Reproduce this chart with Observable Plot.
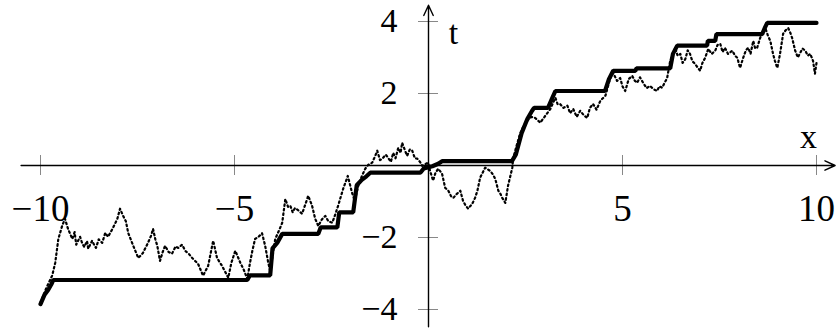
<!DOCTYPE html>
<html>
<head>
<meta charset="utf-8">
<script src="https://cdn.jsdelivr.net/npm/d3@7"></script>
<script src="https://cdn.jsdelivr.net/npm/@observablehq/plot@0.6"></script>
<style>
  html, body { margin: 0; padding: 0; background: #fff; }
  svg { display: block; }
</style>
</head>
<body>
<div id="chart"></div>
<script>
// Tick labels
const xTicks = [-10, -5, 5, 10];
const yTicks = [-4, -2, 2, 4];

// Thick step line (running level)
const stepX = [-10.0, -9.9, -9.8, -9.72, -9.67, -4.67, -4.6, -4.08, -4.02, -3.9, -3.77,
  -2.84, -2.78, -2.35, -2.3, -1.94, -1.85, -1.72, -1.6, -1.5, -0.21, -0.12, 0.1, 0.25, 0.35,
  2.15, 2.25, 2.4, 2.55, 2.67, 2.72, 3.08, 3.2, 3.27, 4.55, 4.65, 4.76, 5.33, 5.36,
  6.23, 6.3, 6.41, 7.18, 7.2, 7.39, 7.42, 8.6, 8.68, 8.73, 10.0];
const stepY = [-3.85, -3.6, -3.45, -3.3, -3.18, -3.18, -3.05, -3.05, -2.3, -2.15, -1.9,
  -1.9, -1.72, -1.72, -1.3, -1.3, -0.55, -0.4, -0.3, -0.2, -0.2, -0.08, -0.02, 0.05, 0.12,
  0.12, 0.3, 0.9, 1.3, 1.52, 1.6, 1.6, 1.9, 2.07, 2.07, 2.4, 2.63, 2.63, 2.7,
  2.7, 3.1, 3.33, 3.33, 3.46, 3.46, 3.65, 3.65, 3.85, 3.96, 3.96];

// Dotted noisy path
const walkX = [-10.00,-9.85,-9.70,-9.62,-9.54,-9.44,-9.37,-9.29,-9.18,-9.12,-9.08,-8.98,-8.92,-8.87,-8.80,-8.77,-8.67,-8.60,-8.57,-8.50,
  -8.41,-8.33,-8.26,-8.15,-8.08,-8.02,-7.95,-7.87,-7.80,-7.74,-7.61,-7.48,-7.36,-7.23,-7.15,-7.10,-7.04,-6.99,-6.92,-6.85,
  -6.79,-6.70,-6.61,-6.52,-6.45,-6.35,-6.27,-6.18,-6.09,-5.94,-5.81,-5.68,-5.55,-5.45,-5.32,-5.16,-5.08,-4.98,-4.85,-4.76,
  -4.67,-4.60,-4.54,-4.47,-4.38,-4.29,-4.21,-4.13,-4.08,-3.95,-3.85,-3.77,-3.69,-3.62,-3.56,-3.50,-3.44,-3.35,-3.26,-3.18,
  -3.10,-3.00,-2.92,-2.84,-2.75,-2.66,-2.58,-2.48,-2.40,-2.33,-2.20,-2.08,-1.97,-1.90,-1.81,-1.72,-1.63,-1.55,-1.45,-1.38,
  -1.32,-1.25,-1.19,-1.10,-1.04,-0.97,-0.91,-0.85,-0.78,-0.72,-0.68,-0.60,-0.55,-0.48,-0.42,-0.35,-0.29,-0.22,-0.16,-0.01,
  0.04,0.12,0.18,0.25,0.35,0.43,0.51,0.58,0.64,0.72,0.82,0.89,0.95,1.02,1.13,1.20,1.26,1.33,1.46,1.59,
  1.66,1.72,1.80,1.86,1.90,1.98,2.05,2.16,2.18,2.27,2.36,2.45,2.54,2.65,2.75,2.88,3.01,3.14,3.27,3.33,
  3.39,3.48,3.58,3.65,3.73,3.82,3.91,4.00,4.09,4.16,4.24,4.33,4.43,4.56,4.68,4.76,4.86,4.94,5.00,5.07,
  5.16,5.25,5.32,5.38,5.45,5.53,5.62,5.71,5.80,5.89,5.95,6.02,6.15,6.23,6.36,6.42,6.49,6.55,6.62,6.68,
  6.74,6.80,6.87,7.00,7.06,7.13,7.21,7.30,7.39,7.45,7.52,7.58,7.64,7.72,7.83,7.90,7.96,8.03,8.11,8.18,
  8.24,8.30,8.37,8.42,8.47,8.55,8.62,8.68,8.75,8.81,8.88,8.93,8.99,9.06,9.14,9.20,9.27,9.32,9.37,9.45,
  9.52,9.58,9.64,9.71,9.78,9.84,9.91,9.96,10.00];
const walkY = [-3.81,-3.40,-3.06,-2.70,-2.04,-1.67,-1.48,-1.76,-2.04,-1.85,-2.20,-1.98,-2.18,-2.26,-2.10,-2.31,-2.09,-2.24,-2.29,-2.05,
  -2.15,-1.87,-1.98,-1.77,-1.62,-1.48,-1.20,-1.40,-1.55,-1.87,-2.23,-2.57,-2.43,-2.15,-1.95,-1.76,-2.05,-2.23,-2.65,-2.40,
  -2.23,-2.40,-2.45,-2.25,-2.29,-2.20,-2.37,-2.45,-2.57,-2.73,-3.06,-2.79,-2.09,-2.57,-2.79,-3.12,-2.70,-2.37,-2.70,-2.90,
  -3.15,-2.70,-2.37,-2.04,-1.98,-1.88,-2.23,-2.70,-2.93,-2.04,-1.80,-1.59,-0.93,-1.15,-1.12,-1.30,-1.18,-1.25,-1.34,-1.10,
  -0.84,-1.12,-1.48,-1.68,-1.50,-1.40,-1.55,-1.59,-1.35,-1.12,-0.65,-0.29,-0.76,-0.98,-0.56,-0.30,-0.09,0.02,0.08,0.25,
  0.41,0.15,0.19,0.30,0.21,0.10,0.35,0.20,0.49,0.35,0.63,0.40,0.27,0.45,0.41,0.20,0.19,0.10,-0.01,0.08,
  -0.15,-0.42,-0.20,-0.09,-0.23,-0.62,-0.70,-0.85,-0.90,-0.80,-0.70,-0.98,-1.10,-1.20,-1.06,-0.90,-0.70,-0.34,-0.06,-0.15,
  -0.25,-0.37,-0.70,-0.80,-0.90,-1.04,-0.56,-0.06,0.19,0.55,0.88,1.10,1.24,1.35,1.32,1.19,1.38,1.57,1.88,1.70,
  1.71,1.60,1.66,1.45,1.57,1.35,1.52,1.40,1.32,1.60,1.71,1.55,1.80,1.94,2.41,2.57,2.35,2.43,2.20,2.07,
  2.40,2.49,2.35,2.30,2.45,2.30,2.15,2.21,2.12,2.07,2.20,2.16,2.43,2.91,3.27,3.05,3.10,2.85,2.96,3.20,
  3.10,2.90,2.82,2.63,2.85,2.99,3.24,3.10,3.19,3.35,3.38,3.15,3.27,3.10,3.19,3.05,2.99,2.71,2.99,3.20,
  3.27,3.10,3.46,3.25,3.27,3.55,3.70,3.82,3.60,3.46,3.10,2.90,2.71,3.10,3.66,3.75,3.82,3.70,3.55,3.19,
  3.00,3.13,3.25,3.19,3.05,3.10,2.91,2.55,2.85];

const step = stepX.map((x, i) => ({x, y: stepY[i]}));
const walk = walkX.map((x, i) => ({x, y: walkY[i]}));

const W = 837, H = 332;
const mL = 40, mR = 21, mT = 21, mB = 23;
const pxPerY = (H - mT - mB) / 8;
const pxPerX = (W - mL - mR) / 20;
const tickHalf = 10; // px

const font = "'Liberation Serif', 'Times New Roman', serif";

const plot = Plot.plot({
  width: W,
  height: H,
  marginLeft: mL, marginRight: mR, marginTop: mT, marginBottom: mB,
  x: {domain: [-10, 10], axis: null},
  y: {domain: [-4, 4], axis: null},
  style: {fontFamily: font, background: "white", overflow: "visible"},
  marks: [
    // gray ticks
    Plot.ruleX(xTicks, {x: d => d, y1: -tickHalf / pxPerY, y2: tickHalf / pxPerY, stroke: "#888", strokeWidth: 1, clip: false}),
    Plot.ruleY(yTicks, {y: d => d, x1: -tickHalf / pxPerX, x2: tickHalf / pxPerX, stroke: "#888", strokeWidth: 1, clip: false}),
    // axes with arrowheads
    Plot.arrow([{x1: -10.5, x2: 10.48, y: 0}], {x1: "x1", x2: "x2", y1: "y", y2: "y", stroke: "black", strokeWidth: 1.4, headLength: 12, headAngle: 50, clip: false}),
    Plot.arrow([{x: 0, y1: -4.48, y2: 4.45}], {x1: "x", x2: "x", y1: "y1", y2: "y2", stroke: "black", strokeWidth: 1.4, headLength: 12, headAngle: 50, clip: false}),
    // dotted walk
    Plot.line(walk, {x: "x", y: "y", stroke: "black", strokeWidth: 2.2, strokeDasharray: "1.6,3", curve: "linear"}),
    // thick step line
    Plot.line(step, {x: "x", y: "y", stroke: "black", strokeWidth: 4.2, strokeLinejoin: "miter", curve: "linear"}),
    // tick labels
    Plot.text(xTicks, {x: d => d, y: 0, text: d => d < 0 ? "\u2212" + Math.abs(d) : String(d), dy: 44, fontSize: 37, fill: "black", textAnchor: "middle", lineAnchor: "middle"}),
    Plot.text(yTicks, {x: 0, y: d => d, text: d => d < 0 ? "\u2212" + Math.abs(d) : String(d), dx: -31, fontSize: 34, fill: "black", textAnchor: "end", lineAnchor: "middle"}),
    // axis names
    Plot.text(["t"], {x: 0, y: 4, text: d => d, dx: 25, dy: 12, fontSize: 34, fill: "black", lineAnchor: "middle"}),
    Plot.text(["x"], {x: 10, y: 0, text: d => d, dx: -8, dy: -28, fontSize: 34, fill: "black", lineAnchor: "middle"})
  ]
});
document.getElementById("chart").appendChild(plot);
</script>
</body>
</html>
